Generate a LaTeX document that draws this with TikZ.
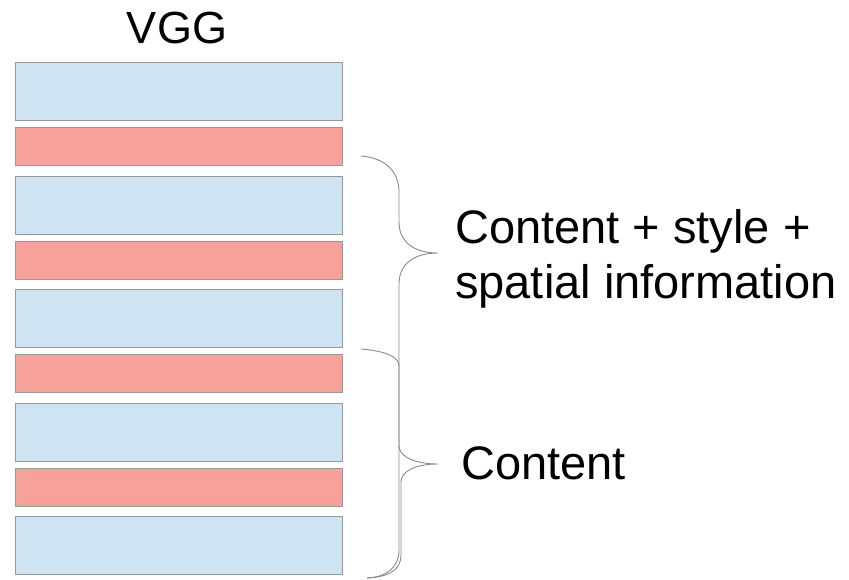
\documentclass[tikz,border=0pt]{standalone}
\usepackage{fontspec}
\setmainfont{Liberation Sans}
\definecolor{convblue}{HTML}{CFE4F2}
\definecolor{poolred}{HTML}{F6A29A}
\definecolor{edgegray}{HTML}{989898}
\definecolor{bracegray}{HTML}{8A8A8A}
\begin{document}
\begin{tikzpicture}[x=1pt,y=-1pt,
  layer/.style={draw=edgegray,line width=1pt,minimum width=327pt,inner sep=0pt,anchor=north west},
  conv/.style={layer,fill=convblue,minimum height=58pt},
  pool/.style={layer,fill=poolred,minimum height=38pt},
  bracecurve/.style={draw=bracegray,line width=0.9pt},
  label/.style={inner sep=0pt,font=\fontsize{47}{55}\selectfont}]
\useasboundingbox (0,0) rectangle (849,579);
% layer stack
\node[conv] (b1) at (15,62) {};
\node[pool] (b2) at (15,127) {};
\node[conv] (b3) at (15,175.5) {};
\node[pool] (b4) at (15,240.5) {};
\node[conv] (b5) at (15,289) {};
\node[pool] (b6) at (15,354) {};
\node[conv] (b7) at (15,402.5) {};
\node[pool] (b8) at (15,467.5) {};
\node[conv] (b9) at (15,515.5) {};
% title
\node[label,anchor=base,font=\fontsize{45}{50}\selectfont] (title) at (177,43) {VGG};
% braces
\coordinate (tipA) at (438,253);
\coordinate (tipB) at (438,464);
\path[bracecurve] (361,156) .. controls (386,158) and (399,172) .. (399,192)
  -- (399,222) .. controls (399,242) and (414,253) .. (tipA)
  .. controls (414,253) and (399,264) .. (399,284)
  -- (399,550) .. controls (399,567) and (387,577) .. (367,578);
\path[bracecurve] (361,349) .. controls (386,351) and (399,357) .. (399,366)
  -- (399,446) .. controls (399,456) and (414,464) .. (tipB)
  .. controls (414,464) and (401,472) .. (401,482)
  -- (401,555) .. controls (401,569) and (390,577) .. (367,578);
% labels (a multi-line node's base is its last line)
\node[label,anchor=base west,align=left] (upper) at (455,298)
  {Content + style +\\spatial information};
\node[label,anchor=base west] (lower) at (461,479) {Content};
\end{tikzpicture}
\end{document}
